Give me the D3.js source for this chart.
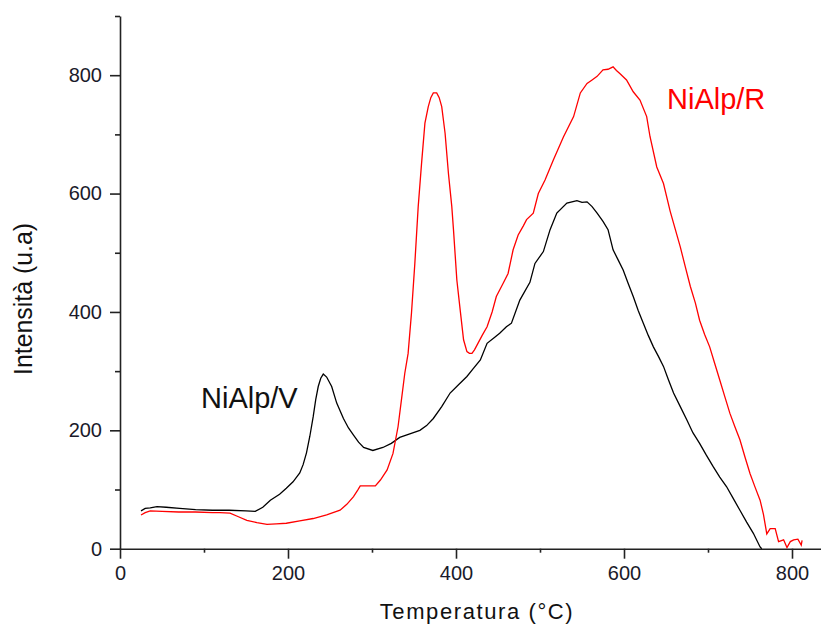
<!DOCTYPE html>
<html>
<head>
<meta charset="utf-8">
<script src="https://cdn.jsdelivr.net/npm/d3@7"></script>
<style>
  body { margin: 0; background: #fff; }
  svg { display: block; font-family: Arial, "Liberation Sans", sans-serif; }
</style>
</head>
<body>
<div class="chart"></div>
<script>
// Data (temperature in °C, intensity in u.a)

const tempV = [25, 30, 36, 44, 55, 71, 90, 110, 130, 150, 161, 170, 179, 190, 198, 206, 214, 218, 222, 226, 230,
    233, 236, 239, 242, 246, 252, 258, 266, 272, 278, 284, 290, 301, 313, 323, 333, 345, 357, 365, 373, 383, 393,
    403, 413, 421, 429, 437, 445, 452, 460, 466, 476, 488, 494, 504, 512, 520, 532, 544, 550, 556, 562,
    568, 575, 581, 587, 593, 599, 605, 611, 617, 623, 629, 635, 641, 647, 653, 659, 667, 675, 682, 690,
    698, 706, 714, 722, 730, 738, 746, 754, 762, 764]
const intV = [64, 68, 69, 71, 70, 68, 66, 65, 65, 64, 63, 70, 82, 92, 102, 113, 128, 142, 162, 190, 223,
    252, 274, 288, 295, 290, 274, 246, 220, 204, 192, 180, 171, 166, 171, 178, 188, 194, 200, 208, 220, 240, 263,
    277, 291, 305, 319, 347, 356, 364, 375, 381, 420, 450, 482, 502, 539, 567, 584, 588, 585, 586, 578,
    567, 553, 539, 505, 488, 471, 448, 426, 402, 381, 360, 341, 325, 308, 285, 263, 240, 217, 196, 178,
    158, 139, 121, 105, 85, 65, 45, 26, 3, 0]

const tempR = [25, 30, 36, 50, 70, 90, 110, 119, 131, 141, 151, 163, 175, 186, 198, 214, 230, 246, 262, 270,
    278, 283, 286, 295, 304, 310, 318, 325, 331, 335, 339, 343, 347, 351, 355, 359, 363, 367, 370, 373,
    377, 380, 383, 387, 391, 395, 397, 401, 405, 409, 413, 416, 419, 422, 425, 431, 437, 443, 448, 456,
    462, 468, 474, 480, 484, 492, 498, 506, 516, 528, 540, 548, 556, 562, 568, 575, 581, 587, 591, 595,
    603, 611, 619, 627, 631, 639, 647, 655, 661, 667, 673, 679, 685, 690, 696, 702, 708, 714, 720, 726,
    732, 738, 744, 750, 756, 762, 766, 770, 774, 780, 784, 790, 794, 798, 802, 807, 811, 812]
const intR = [57, 61, 64, 63, 62, 62, 61, 61, 60, 54, 48, 44, 41, 42, 43, 47, 51, 57, 65, 75,
    88, 99, 106, 106, 106, 116, 133, 161, 206, 251, 296, 330, 398, 482, 578, 651, 719, 747, 762, 770,
    770, 762, 747, 702, 634, 578, 539, 454, 403, 353, 333, 330, 330, 336, 344, 360, 375, 400, 426, 448,
    465, 505, 530, 545, 556, 567, 600, 623, 657, 696, 730, 770, 786, 792, 798, 809, 810, 814, 808, 803,
    792, 772, 758, 730, 696, 645, 617, 570, 540, 510, 476, 443, 415, 386, 362, 341, 313, 285, 257, 229,
    206, 184, 155, 127, 104, 82, 58, 25, 34, 34, 12, 15, 2, 12, 15, 16, 6, 14]

const xMajor = [0, 200, 400, 600, 800]
const xMinor = [100, 300, 500, 700]
const yMajor = [0, 200, 400, 600, 800]
const yMinor = [100, 300, 500, 700, 900]

const labelV = "NiAlp/V"
const labelR = "NiAlp/R"

// Size of plot
const w = 821
const h = 625

const svg = d3.select(".chart")
    .append("svg")
    .attr("width", w)
    .attr("height", h)

// Scales
const xScale = d3.scaleLinear().domain([0, 835]).range([120, 821.4])
const yScale = d3.scaleLinear().domain([0, 900]).range([548.7, 16])

const axisColor = "#222"

// y axis (major + minor)
const leftAxis = svg.append("g")
    .attr("transform", "translate(120,0)")
    .call(d3.axisLeft(yScale).tickValues(yMajor).tickSize(10).tickSizeOuter(0).tickPadding(8))
svg.append("g")
    .attr("transform", "translate(120,0)")
    .call(d3.axisLeft(yScale).tickValues(yMinor).tickSize(5).tickSizeOuter(0).tickFormat(""))
    .select(".domain").remove()

// x axis (major + minor)
const bottomAxis = svg.append("g")
    .attr("transform", `translate(0,${yScale(0)})`)
    .call(d3.axisBottom(xScale).tickValues(xMajor).tickSize(10).tickSizeOuter(0).tickPadding(7))
svg.append("g")
    .attr("transform", `translate(0,${yScale(0)})`)
    .call(d3.axisBottom(xScale).tickValues(xMinor).tickSize(4).tickSizeOuter(0).tickFormat(""))
    .select(".domain").remove()

svg.selectAll(".domain, .tick line")
    .attr("stroke", axisColor)
    .attr("stroke-width", 1.6)
svg.selectAll(".tick text")
    .attr("fill", "#1a1a2a")
    .style("font-size", "20px")
    .style("font-family", "Arial, 'Liberation Sans', sans-serif")

// lines
const line = d3.line()
    .x(d => xScale(d[0]))
    .y(d => yScale(d[1]))

const seriesV = tempV.map((t, i) => [t, intV[i]])
const seriesR = tempR.map((t, i) => [t, intR[i]])

svg.append("path")
    .datum(seriesV)
    .attr("fill", "none")
    .attr("stroke", "#000")
    .attr("stroke-width", 1.3)
    .attr("d", line)

svg.append("path")
    .datum(seriesR)
    .attr("fill", "none")
    .attr("stroke", "#ff0000")
    .attr("stroke-width", 1.3)
    .attr("d", line)

// labels
svg.append("text")
    .attr("x", 201)
    .attr("y", 408)
    .attr("fill", "#111")
    .style("font-size", "29px")
    .text(labelV)

svg.append("text")
    .attr("x", 667)
    .attr("y", 109)
    .attr("fill", "#ff0000")
    .style("font-size", "29px")
    .text(labelR)

// axis titles
svg.append("text")
    .attr("x", 477)
    .attr("y", 619)
    .attr("text-anchor", "middle")
    .attr("fill", "#111")
    .style("font-size", "22px")
    .style("letter-spacing", "1.6px")
    .text("Temperatura (°C)")

svg.append("text")
    .attr("transform", "translate(32,299) rotate(-90)")
    .attr("text-anchor", "middle")
    .attr("fill", "#111")
    .attr("textLength", 152)
    .attr("lengthAdjust", "spacingAndGlyphs")
    .style("font-size", "25px")
    .text("Intensità (u.a)")
</script>
</body>
</html>
